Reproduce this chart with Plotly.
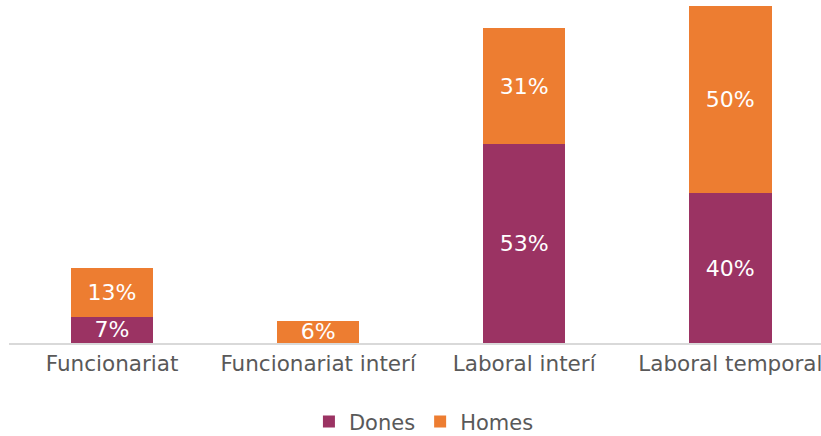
import plotly.graph_objects as go

categories = ["Funcionariat", "Funcionariat interí", "Laboral interí", "Laboral temporal"]
dones = [7, 0, 53, 40]
homes = [13, 6, 31, 50]

def labels(vals):
    return [f"{v}%" if v else "" for v in vals]

FONT = "DejaVu Sans"
fig = go.Figure()
fig.add_trace(go.Bar(name="Dones", x=categories, y=dones, text=labels(dones),
                     marker=dict(color="#9B3363", line=dict(width=0)),
                     textposition="inside", insidetextanchor="middle", constraintext="none",
                     textfont=dict(color="white", size=22, family=FONT)))
fig.add_trace(go.Bar(name="Homes", x=categories, y=homes, text=labels(homes),
                     marker=dict(color="#ED7D31", line=dict(width=0)),
                     textposition="inside", insidetextanchor="middle", constraintext="none",
                     textfont=dict(color="white", size=22, family=FONT)))

fig.update_layout(
    barmode="stack", bargap=0.6,
    width=821, height=436,
    margin=dict(l=9, r=0, t=0, b=93, autoexpand=False),
    paper_bgcolor="white", plot_bgcolor="white",
    font=dict(family=FONT, size=21, color="#595959"),
    uniformtext=dict(minsize=22, mode="show"),
    xaxis=dict(range=[-0.5, 3.44], showline=True, linecolor="#D9D9D9", linewidth=1.5,
               ticks="", showgrid=False, automargin=False,
               tickfont=dict(size=21.5, color="#595959")),
    yaxis=dict(range=[0, 91.5], visible=False, showgrid=False, automargin=False),
    legend=dict(orientation="h", x=0.511, xanchor="center", y=-0.23, yanchor="middle",
                traceorder="normal", font=dict(size=21, color="#595959"), itemwidth=30),
    showlegend=True,
)
fig.write_html("out.html", config={"displayModeBar": False},
               post_script="document.body.style.margin='0';document.body.style.overflow='hidden';")
